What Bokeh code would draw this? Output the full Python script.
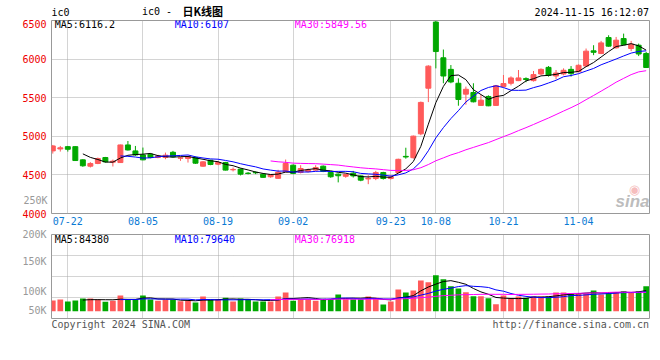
import pandas as pd
from bokeh.plotting import figure
from bokeh.models import Range1d, FixedTicker, Label, ColumnDataSource, LinearAxis
from bokeh.layouts import column
from bokeh.embed import file_html
from bokeh.resources import INLINE

# ---------------- data ----------------
DATES = ["07-18", "07-19",
         "07-22", "07-23", "07-24", "07-25", "07-26",
         "07-29", "07-30", "07-31", "08-01", "08-02",
         "08-05", "08-06", "08-07", "08-08", "08-09",
         "08-12", "08-13", "08-14", "08-15", "08-16",
         "08-19", "08-20", "08-21", "08-22", "08-23",
         "08-26", "08-27", "08-28", "08-29", "08-30",
         "09-02", "09-03", "09-04", "09-05", "09-06",
         "09-09", "09-10", "09-11", "09-12", "09-13",
         "09-18", "09-19", "09-20",
         "09-23", "09-24", "09-25", "09-26", "09-27",
         "09-30",
         "10-08", "10-09", "10-10", "10-11",
         "10-14", "10-15", "10-16", "10-17", "10-18",
         "10-21", "10-22", "10-23", "10-24", "10-25",
         "10-28", "10-29", "10-30", "10-31", "11-01",
         "11-04", "11-05", "11-06", "11-07", "11-08",
         "11-11", "11-12", "11-13", "11-14", "11-15"]

OPEN = [4811, 4836, 4866, 4866, 4695, 4613, 4648, 4725, 4665, 4660,
        4888, 4811, 4759, 4768, 4725, 4725, 4793, 4716, 4712, 4725,
        4613, 4690, 4639, 4660, 4566, 4575, 4523, 4533, 4510, 4476,
        4455, 4540, 4626, 4532, 4545, 4562, 4613, 4532, 4510, 4482,
        4522, 4487, 4448, 4453, 4530, 4453, 4530, 4740, 4723, 5032,
        5623, 6480, 6017, 5867, 5687, 5546, 5567, 5400, 5516, 5400,
        5644, 5687, 5721, 5747, 5721, 5807, 5893, 5781, 5807, 5867,
        5837, 5910, 6107, 6073, 6279, 6146, 6266, 6137, 6180, 6073]
HIGH = [4888, 4875, 4875, 4870, 4703, 4665, 4725, 4733, 4699, 4892,
        4939, 4875, 4854, 4780, 4760, 4789, 4811, 4733, 4746, 4738,
        4678, 4695, 4678, 4669, 4596, 4583, 4536, 4545, 4515, 4510,
        4566, 4699, 4636, 4626, 4583, 4626, 4622, 4545, 4519, 4510,
        4552, 4495, 4496, 4552, 4540, 4496, 4710, 4852, 5010, 5450,
        5920, 6495, 6124, 5923, 5751, 5644, 5687, 5537, 5530, 5665,
        5794, 5777, 5859, 5764, 5846, 5880, 5910, 5859, 5880, 5910,
        5931, 6137, 6180, 6236, 6309, 6287, 6330, 6236, 6201, 6094]
LOW = [4776, 4802, 4802, 4682, 4605, 4596, 4639, 4660, 4609, 4656,
       4815, 4746, 4690, 4716, 4716, 4703, 4725, 4682, 4660, 4643,
       4605, 4626, 4626, 4558, 4545, 4493, 4506, 4510, 4463, 4463,
       4450, 4536, 4510, 4519, 4532, 4553, 4536, 4463, 4403, 4463,
       4466, 4418, 4380, 4432, 4440, 4440, 4526, 4710, 4710, 5014,
       5443, 5880, 5687, 5687, 5396, 5409, 5439, 5396, 5390, 5396,
       5640, 5660, 5715, 5700, 5709, 5794, 5773, 5739, 5790, 5773,
       5830, 5901, 6051, 6064, 6160, 6137, 6180, 6103, 6039, 5891]
CLOSE = [4875, 4851, 4832, 4686, 4618, 4648, 4712, 4669, 4678, 4888,
         4823, 4759, 4695, 4725, 4746, 4755, 4733, 4720, 4738, 4652,
         4669, 4635, 4660, 4562, 4571, 4510, 4518, 4527, 4468, 4502,
         4536, 4648, 4519, 4583, 4562, 4596, 4545, 4476, 4489, 4505,
         4487, 4432, 4456, 4530, 4453, 4474, 4702, 4732, 5002, 5439,
         5909, 6098, 5781, 5704, 5477, 5609, 5447, 5468, 5395, 5655,
         5683, 5756, 5756, 5736, 5799, 5867, 5790, 5820, 5855, 5812,
         5920, 6103, 6088, 6210, 6168, 6245, 6186, 6193, 6066, 5891]
VOLUME = [43900, 48000, 39800, 43900, 52000, 52000, 48000, 38500, 42600, 64400,
          48000, 48000, 64400, 48000, 42600, 46700, 46700, 41000, 42600, 35700,
          60300, 48000, 48000, 54900, 39800, 52000, 48000, 39800, 39800, 39800,
          60300, 76700, 42600, 49200, 49200, 42600, 50800, 49200, 68500, 49200,
          49200, 49200, 60300, 54900, 27500, 39800, 89000, 76700, 84900, 125900,
          118500, 147300, 131000, 102000, 92700, 77600, 61200, 61200, 52900, 28200,
          64400, 52000, 60300, 54900, 60300, 60300, 60300, 76700, 76700, 72600,
          72500, 72500, 84700, 68300, 76500, 77900, 82000, 77900, 82000, 102100]

X_TICK_DATES = ["07-22", "08-05", "08-19", "09-02", "09-23", "10-08", "10-21", "11-04"]
PRICE_TICKS = [4000, 4500, 5000, 5500, 6000, 6500]
VOL_TICK_LABELS = ["50K", "100K", "150K", "200K"]
VOL_TICK_AT = [3000, 80600, 203400, 313500]   # where the picture prints those labels
EXTRA_LABEL, EXTRA_AT = "250K", 4167           # stray volume label inside the price panel

TITLE_CODE = "ic0"
TITLE = "日K线图"
STAMP = "2024-11-15 16:12:07"
MA_TEXT = ["MA5:6116.2", "MA10:6107", "MA30:5849.56"]
VMA_TEXT = ["MA5:84380", "MA10:79640", "MA30:76918"]
FOOT_LEFT = "Copyright 2024 SINA.COM"
FOOT_RIGHT = "http://finance.sina.com.cn"

# ---------------- styles ----------------
UP, DOWN = "#ff5a5a", "#00a800"
MA_COLORS = ["#000000", "#0000ff", "#ff00ff"]
MONO = "DejaVu Sans Mono"
GRID = "#a8a8a8"
BORDER = "#999999"
W = 652

# page-pixel geometry helpers
X0, DX = 52.3, 7.511          # candle 0 centre, candle pitch
FR_L, FR_R = 51, 649          # frame left / right
def mx(px):
    return (px - X0) / DX
def my(py):                   # price panel, frame 20..213
    return 4000 + (213 - py) * 2500 / 193
VY0, VY1 = -30000, 314000     # volume panel, frame 234..318
def vy(py):
    return VY0 + (318 - py) * (VY1 - VY0) / 84

n = len(DATES)
idx = list(range(n))
colors = [UP if c >= o else DOWN for o, c in zip(OPEN, CLOSE)]
cs = pd.Series(CLOSE, dtype=float)
vs = pd.Series(VOLUME, dtype=float)
src = ColumnDataSource(dict(
    x=idx, o=OPEN, h=HIGH, l=LOW, c=CLOSE, v=VOLUME, color=colors,
    top=[max(o, c) for o, c in zip(OPEN, CLOSE)],
    bot=[min(o, c) for o, c in zip(OPEN, CLOSE)],
    ma5=cs.rolling(5).mean(), ma10=cs.rolling(10).mean(), ma30=cs.rolling(30).mean(),
    v5=vs.rolling(5).mean(), v10=vs.rolling(10).mean(), v30=vs.rolling(30).mean(),
))
tick_idx = [DATES.index(d) for d in X_TICK_DATES]
xr = Range1d(mx(FR_L), mx(FR_R))

def lab(fig, text, x, y, color, size="10px", align="left", font=MONO, style="normal", alpha=1.0):
    fig.add_layout(Label(x=x, y=y, text=text, text_color=color, text_font=font,
                         text_font_size=size, text_align=align, text_baseline="middle",
                         text_font_style=style, text_alpha=alpha))

def strip(height, y0, y1):
    # text strip whose frame lines up with the panels; data units = page pixels
    f = figure(width=W, height=height, x_range=Range1d(FR_L, FR_R), y_range=Range1d(y1, y0),
               output_backend="svg", toolbar_location=None,
               x_axis_location=None, y_axis_location=None,
               min_border_left=FR_L, min_border_right=W - FR_R, min_border_top=0, min_border_bottom=0,
               background_fill_color="white", border_fill_color="white",
               outline_line_color=None)
    f.grid.visible = False
    return f

def style_axis(ax, color, standoff):
    ax.axis_line_color = None
    ax.major_tick_line_color = None
    ax.minor_tick_line_color = None
    ax.major_tick_out = 0
    ax.major_tick_in = 0
    ax.major_label_standoff = standoff
    ax.major_label_text_color = color
    ax.major_label_text_font = MONO
    ax.major_label_text_font_size = "10px"

# ---------------- header strip (page y 0..19) ----------------
hdr = strip(19, 0, 19)
lab(hdr, TITLE_CODE, 51, 12, "#000000")
lab(hdr, TITLE_CODE + " -", 141.5, 11, "#000000")
lab(hdr, TITLE, 182, 10.5, "#000000", size="11px", font="Noto Sans CJK SC", style="bold")
lab(hdr, STAMP, 648.5, 11.5, "#000000", align="right")

# ---------------- price panel (page y 19..228) ----------------
p = figure(width=W, height=209, x_range=xr, y_range=Range1d(4000, 6500),
           output_backend="svg", toolbar_location=None,
           min_border_left=FR_L, min_border_right=W - FR_R, min_border_top=1, min_border_bottom=15,
           background_fill_color="white", border_fill_color="white",
           outline_line_color=BORDER, outline_line_width=1)
xa = p.xaxis[0]
xa.ticker = FixedTicker(ticks=tick_idx)
xa.major_label_overrides = {i: DATES[i] for i in tick_idx}
style_axis(xa, "#0a7ad4", 3)
p.xgrid.ticker = FixedTicker(ticks=tick_idx)
p.yaxis.ticker = FixedTicker(ticks=PRICE_TICKS)
p.ygrid.ticker = FixedTicker(ticks=PRICE_TICKS)
for g in (p.xgrid, p.ygrid):
    g.grid_line_color = GRID
    g.grid_line_dash = "1 1"
    g.grid_line_width = 1
style_axis(p.yaxis[0], "#ee0000", 5)
extra = LinearAxis(ticker=FixedTicker(ticks=[EXTRA_AT]),
                   major_label_overrides={EXTRA_AT: EXTRA_LABEL})
style_axis(extra, "#999999", -28)
p.add_layout(extra, "left")

p.segment(x0="x", y0="l", x1="x", y1="h", color="color", line_width=1, source=src)
p.vbar(x="x", width=0.66, top="top", bottom="bot", fill_color="color",
       line_color="color", line_width=1, source=src)
for col, clr in zip(["ma5", "ma10", "ma30"], MA_COLORS):
    p.line("x", col, color=clr, line_width=1, source=src)
for t, clr, px in zip(MA_TEXT, MA_COLORS, [54.3, 174.3, 294.3]):
    lab(p, t, mx(px), my(24.2), clr)
lab(p, "sina", mx(649), my(201), "#b4b4b4", size="17px", align="right",
    font="Liberation Sans", style="bold italic", alpha=0.9)
lab(p, "◉", mx(634), my(189), "#f2a0a0", size="13px", align="center", font="DejaVu Sans", alpha=0.7)

# ---------------- volume panel (page y 228..319) ----------------
q = figure(width=W, height=91, x_range=xr, y_range=Range1d(VY0, VY1),
           output_backend="svg", toolbar_location=None,
           min_border_left=FR_L, min_border_right=W - FR_R, min_border_top=6, min_border_bottom=1,
           background_fill_color="white", border_fill_color="white",
           outline_line_color=BORDER, outline_line_width=1)
q.xaxis.visible = False
q.xgrid.ticker = FixedTicker(ticks=tick_idx)
q.ygrid.ticker = FixedTicker(ticks=[VY0 + (VY1 - VY0) * k / 4 for k in (1, 2, 3)])
for g in (q.xgrid, q.ygrid):
    g.grid_line_color = GRID
    g.grid_line_dash = "1 1"
qa = q.yaxis[0]
qa.ticker = FixedTicker(ticks=VOL_TICK_AT)
qa.major_label_overrides = dict(zip(VOL_TICK_AT, VOL_TICK_LABELS))
style_axis(qa, "#999999", 5)

q.vbar(x="x", width=0.76, top="v", bottom=0, fill_color="color", line_color=None, source=src)
for col, clr in zip(["v5", "v10", "v30"], MA_COLORS):
    q.line("x", col, color=clr, line_width=1, source=src)
for t, clr, px in zip(VMA_TEXT, MA_COLORS, [54.3, 174.3, 294.3]):
    lab(q, t, mx(px), vy(238.5), clr)

# ---------------- footer strip (page y 319..333) ----------------
ftr = strip(14, 319, 333)
lab(ftr, FOOT_LEFT, 51, 323.5, "#555555")
lab(ftr, FOOT_RIGHT, 648.5, 323.5, "#555555", align="right")

layout = column(hdr, p, q, ftr, spacing=0)
open("out.html", "w").write(file_html(layout, INLINE))
